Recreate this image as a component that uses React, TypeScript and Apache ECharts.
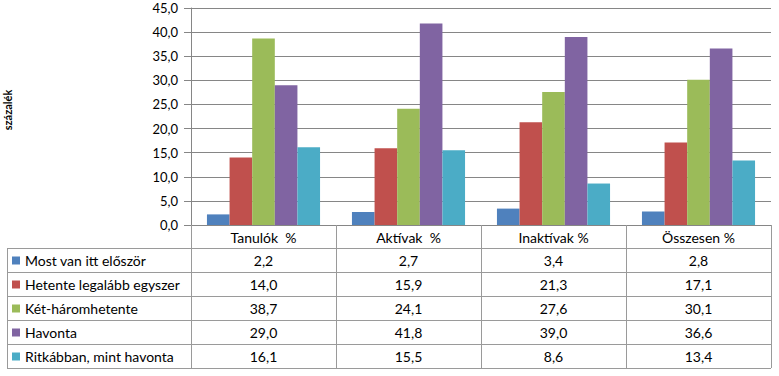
import React, { useEffect, useRef } from "react";
import * as echarts from "echarts";

const categories = ["Tanulók  %", "Aktívak  %", "Inaktívak %", "Összesen %"];
const seriesNames = [
  "Most van itt először",
  "Hetente legalább egyszer",
  "Két-háromhetente",
  "Havonta",
  "Ritkábban, mint havonta",
];
const mostVanItt = [2.2, 2.7, 3.4, 2.8];
const hetente = [14.0, 15.9, 21.3, 17.1];
const ketHarom = [38.7, 24.1, 27.6, 30.1];
const havonta = [29.0, 41.8, 39.0, 36.6];
const ritkabban = [16.1, 15.5, 8.6, 13.4];
const seriesValues = [mostVanItt, hetente, ketHarom, havonta, ritkabban];
const colors = ["#4F81BD", "#C0504D", "#9BBB59", "#8064A2", "#4BACC6"];
const yMin = 0;
const yMax = 45;
const yInterval = 5;
const yTitle = "százalék";

const FONT = "Lato, 'Noto Sans', sans-serif";
const fmt = (v: number) => v.toFixed(1).replace(".", ",");

export default function App() {
  const ref = useRef<HTMLDivElement>(null);
  useEffect(() => {
    if (!ref.current) return;
    const chart = echarts.init(ref.current, null, { renderer: "svg" });
    const gridLeft = 191;
    const gridRight = 8;
    const gridTop = 8;
    const gridBottom = 151;
    const headerH = 23;
    const rowH = 24;
    const tableLeft = 7;
    const nRows = seriesNames.length;
    const tableDepth = headerH + rowH * nRows;

    chart.setOption({
      animation: false,
      textStyle: { fontFamily: FONT },
      grid: {
        left: gridLeft,
        right: gridRight,
        top: gridTop,
        bottom: gridBottom,
        containLabel: false,
        outerBoundsMode: "none",
      },
      xAxis: {
        type: "category",
        data: categories,
        axisLine: { show: true, lineStyle: { color: "#868686", width: 1 } },
        axisTick: { show: true, length: tableDepth, lineStyle: { color: "#9a9a9a", width: 1 } },
        axisLabel: { margin: 5, fontSize: 14, color: "#000", fontFamily: FONT },
      },
      yAxis: {
        type: "value",
        min: yMin,
        max: yMax,
        interval: yInterval,
        name: yTitle,
        nameLocation: "middle",
        nameRotate: 90,
        nameGap: 178,
        nameTextStyle: { fontSize: 11, fontWeight: "bold", color: "#000", fontFamily: FONT, padding: [0, 0, 0, 13] },
        axisLine: { show: true, lineStyle: { color: "#868686", width: 1 } },
        axisTick: { show: true, length: 7, lineStyle: { color: "#868686" } },
        axisLabel: {
          margin: 13,
          fontSize: 13,
          lineHeight: 12,
          color: "#000",
          fontFamily: FONT,
          formatter: (v: number) => fmt(v),
        },
        splitLine: { show: true, lineStyle: { color: "#868686", width: 1 } },
      },
      series: seriesNames.map((name, i) => ({
        name,
        type: "bar",
        data: seriesValues[i],
        barGap: "0%",
        barCategoryGap: "22%",
        itemStyle: { color: colors[i] },
      })),
    });

    const axisY = chart.convertToPixel({ yAxisIndex: 0 }, 0) as number;
    const rowsTop = Math.round(axisY) + headerH;
    const chartW = chart.getWidth();
    const tableRight = chartW - gridRight;
    const xs = categories.map((c) => chart.convertToPixel({ xAxisIndex: 0 }, c) as number);
    const graphics: any[] = [];
    const lineStyle = { stroke: "#9a9a9a", lineWidth: 1 };
    for (let i = 0; i <= nRows; i++) {
      const y = rowsTop + rowH * i + 0.5;
      graphics.push({ type: "line", shape: { x1: tableLeft, y1: y, x2: tableRight, y2: y }, style: lineStyle, silent: true });
    }
    graphics.push({
      type: "line",
      shape: { x1: tableLeft + 0.5, y1: rowsTop, x2: tableLeft + 0.5, y2: rowsTop + rowH * nRows },
      style: lineStyle,
      silent: true,
    });
    seriesNames.forEach((name, s) => {
      const cy = rowsTop + rowH * s + rowH / 2 + 0.5;
      graphics.push({ type: "rect", shape: { x: 12, y: cy - 4, width: 8, height: 8 }, style: { fill: colors[s] }, silent: true });
      graphics.push({
        type: "text",
        x: 25,
        y: cy,
        style: { text: name, fontSize: 14, fontFamily: FONT, fill: "#000", verticalAlign: "middle", align: "left" },
        silent: true,
      });
      seriesValues[s].forEach((v, c) => {
        graphics.push({
          type: "text",
          x: xs[c],
          y: cy,
          style: { text: fmt(v), fontSize: 14, fontFamily: FONT, fill: "#000", verticalAlign: "middle", align: "center" },
          silent: true,
        });
      });
    });
    chart.setOption({ graphic: graphics });

    return () => chart.dispose();
  }, []);
  return <div ref={ref} style={{ position: "fixed", left: 0, top: 0, width: 779, height: 376, background: "#fff" }} />;
}
